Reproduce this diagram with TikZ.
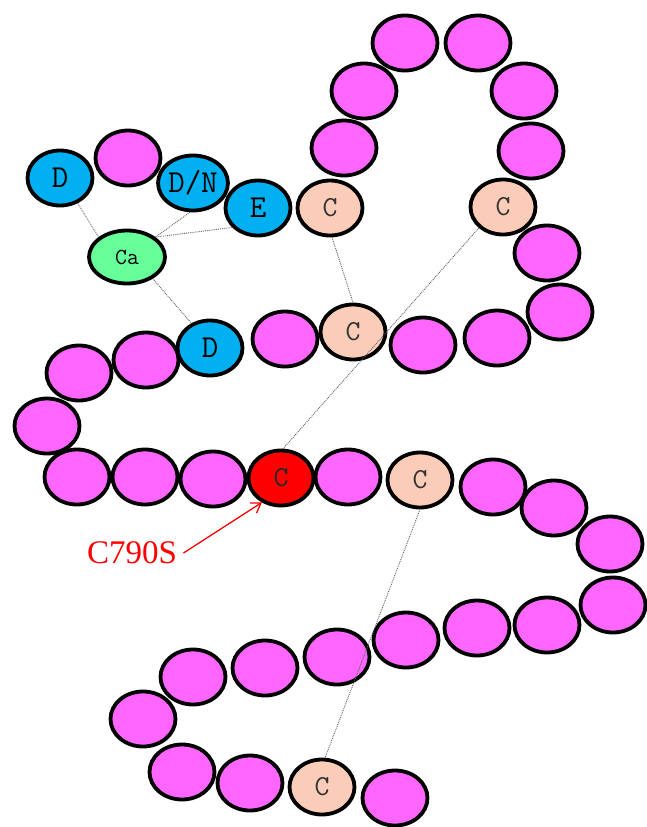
\documentclass[tikz,border=0pt]{standalone}
\usepackage{fontspec}
\newfontfamily\labelfont{Liberation Serif}
\usetikzlibrary{shapes.geometric,arrows.meta}
\definecolor{pinkres}{HTML}{FF66FF}
\definecolor{blueres}{HTML}{00B0F0}
\definecolor{peachres}{HTML}{FBCDB9}
\definecolor{greenres}{HTML}{66FF99}
\definecolor{redres}{HTML}{FF0000}
\definecolor{linkgray}{HTML}{606060}
\tikzset{
  res/.style={ellipse, draw=black, line width=3.8pt, inner sep=0pt,
    minimum width=65pt, minimum height=55pt, font=\ttfamily\fontsize{32}{32}\selectfont},
  pk/.style={res, fill=pinkres},
  bl/.style={res, fill=blueres},
  cy/.style={res, fill=peachres, text=black!80, font=\ttfamily\fontsize{29}{29}\selectfont},
  rd/.style={res, fill=redres, text=black!85, font=\ttfamily\fontsize{29}{29}\selectfont},
  ca/.style={res, fill=greenres, minimum width=76pt, minimum height=53pt,
    font=\ttfamily\fontsize{23}{23}\selectfont},
  link/.style={draw=linkgray, line width=0.9pt, densely dotted},
}
\begin{document}
\begin{tikzpicture}[x=1pt,y=-1pt]
\useasboundingbox (0,0) rectangle (647,827);
% top loop
\node[pk] (t1) at (405,43) {};
\node[pk] (t2) at (478,43) {};
\node[pk] (t3) at (364,91) {};
\node[pk] (t4) at (524,91) {};
\node[pk] (t5) at (344,148) {};
\node[pk] (t6) at (531,151) {};
\node[cy] (ca1) at (330,208) {C};
\node[cy] (cb) at (503,207) {C};
\node[pk] (r1) at (547,253) {};
\node[pk] (r2) at (560,312) {};
\node[pk] (r3) at (497,338) {};
\node[pk] (r4) at (423,345) {};
\node[cy] (cc) at (353,332) {C};
\node[pk] (m1) at (285,339) {};
\node[bl] (d2) at (210,348) {D};
\node[pk] (m2) at (146,360) {};
\node[pk] (m3) at (79,373) {};
\node[pk] (m4) at (47,426) {};
\node[pk] (n1) at (77,477) {};
\node[pk] (n2) at (145,477) {};
\node[pk] (n3) at (213,479) {};
\node[rd] (red) at (281,478) {C};
\node[pk] (n4) at (348,477) {};
\node[cy] (cd) at (420,480) {C};
\node[pk] (n5) at (493,487) {};
\node[pk] (n6) at (554,508) {};
\node[pk] (n7) at (610,544) {};
\node[pk] (s1) at (613,605) {};
\node[pk] (s2) at (547,625) {};
\node[pk] (s3) at (477,628) {};
\node[pk] (s4) at (406,640) {};
\node[pk] (s5) at (337,657) {};
\node[pk] (s6) at (265,668) {};
\node[pk] (s7) at (193,677) {};
\node[pk] (b1) at (143,719) {};
\node[pk] (b2) at (182,772) {};
\node[pk] (b3) at (250,783) {};
\node[cy] (ce) at (322,787) {C};
\node[pk] (b4) at (395,798) {};
% top-left
\node[bl] (d1) at (60,178) {D};
\node[pk] (p1) at (128,158) {};
\node[bl] (dn) at (193,183) {D/N};
\node[bl] (e) at (258,208) {E};
\node[ca] (cal) at (127,257) {Ca};
% links
\draw[link] (d1.-55) -- (cal.145);
\draw[link] (dn.-96) -- (cal.35);
\draw[link] (e.217) -- (cal.35);
\draw[link] (cal.-40) -- (d2.127);
\draw[link] (ca1.-86) -- (cc.90);
\draw[link] (cb.221) -- (red.86);
\draw[link] (cd.-90) -- (ce.84);
% label
\node[text=redres, font=\labelfont\fontsize{33}{33}\selectfont] (lab) at (132,553) {C790S};
\draw[redres, line width=1.3pt, -{Straight Barb[length=9pt,width=12pt]}] (lab.east) ++(3,0) coordinate (la) (la) -- (red.-128);
\end{tikzpicture}
\end{document}
